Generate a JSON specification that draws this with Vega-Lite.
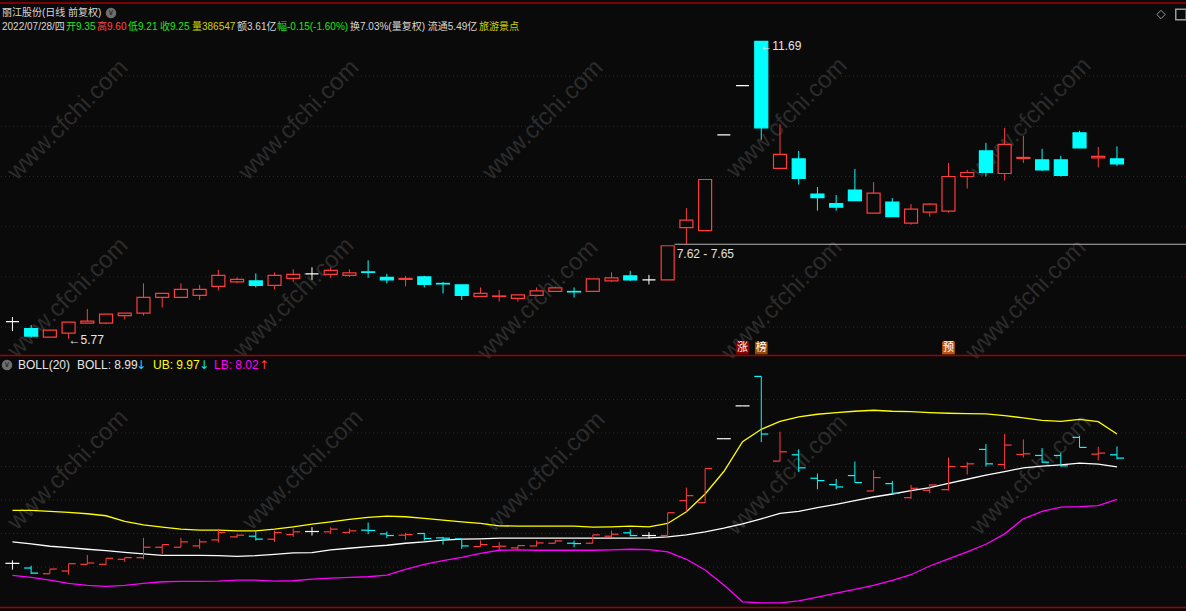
{
  "$schema": "https://vega.github.io/schema/vega-lite/v6.json",
  "width": 1186,
  "height": 611,
  "padding": 0,
  "autosize": {"type": "none"},
  "background": "#0a0a0a",
  "config": {"view": {"stroke": null}, "axis": {"disable": true}, "legend": {"disable": true}},
  "datasets": {
    "k": [
      {"i":0,"o":6.11,"h":6.20,"l":5.92,"c":6.11,"d":"flat"},
      {"i":1,"o":5.97,"h":6.04,"l":5.79,"c":5.82,"d":"down"},
      {"i":2,"o":5.80,"h":5.94,"l":5.80,"c":5.94,"d":"up"},
      {"i":3,"o":5.88,"h":6.10,"l":5.77,"c":6.10,"d":"up"},
      {"i":4,"o":6.08,"h":6.36,"l":6.08,"c":6.12,"d":"up"},
      {"i":5,"o":6.08,"h":6.26,"l":6.06,"c":6.26,"d":"up"},
      {"i":6,"o":6.23,"h":6.28,"l":6.15,"c":6.28,"d":"up"},
      {"i":7,"o":6.28,"h":6.87,"l":6.23,"c":6.59,"d":"up"},
      {"i":8,"o":6.59,"h":6.67,"l":6.39,"c":6.67,"d":"up"},
      {"i":9,"o":6.59,"h":6.87,"l":6.59,"c":6.75,"d":"up"},
      {"i":10,"o":6.63,"h":6.84,"l":6.54,"c":6.75,"d":"up"},
      {"i":11,"o":6.81,"h":7.14,"l":6.73,"c":7.03,"d":"up"},
      {"i":12,"o":6.90,"h":6.99,"l":6.87,"c":6.95,"d":"up"},
      {"i":13,"o":6.92,"h":7.07,"l":6.79,"c":6.83,"d":"down"},
      {"i":14,"o":6.83,"h":7.09,"l":6.75,"c":7.03,"d":"up"},
      {"i":15,"o":6.97,"h":7.15,"l":6.90,"c":7.05,"d":"up"},
      {"i":16,"o":7.06,"h":7.19,"l":6.94,"c":7.06,"d":"flat"},
      {"i":17,"o":7.05,"h":7.19,"l":6.98,"c":7.13,"d":"up"},
      {"i":18,"o":7.03,"h":7.15,"l":7.00,"c":7.08,"d":"up"},
      {"i":19,"o":7.10,"h":7.33,"l":6.98,"c":7.09,"d":"down"},
      {"i":20,"o":6.99,"h":7.06,"l":6.87,"c":6.94,"d":"down"},
      {"i":21,"o":6.95,"h":7.02,"l":6.81,"c":6.97,"d":"up"},
      {"i":22,"o":7.00,"h":7.02,"l":6.79,"c":6.85,"d":"down"},
      {"i":23,"o":6.87,"h":6.90,"l":6.67,"c":6.86,"d":"down"},
      {"i":24,"o":6.84,"h":6.84,"l":6.54,"c":6.63,"d":"down"},
      {"i":25,"o":6.61,"h":6.79,"l":6.61,"c":6.67,"d":"up"},
      {"i":26,"o":6.61,"h":6.74,"l":6.51,"c":6.62,"d":"up"},
      {"i":27,"o":6.57,"h":6.64,"l":6.51,"c":6.64,"d":"up"},
      {"i":28,"o":6.63,"h":6.79,"l":6.61,"c":6.72,"d":"up"},
      {"i":29,"o":6.71,"h":6.81,"l":6.71,"c":6.78,"d":"up"},
      {"i":30,"o":6.71,"h":6.79,"l":6.59,"c":6.70,"d":"down"},
      {"i":31,"o":6.71,"h":6.96,"l":6.71,"c":6.96,"d":"up"},
      {"i":32,"o":6.92,"h":7.09,"l":6.90,"c":6.98,"d":"up"},
      {"i":33,"o":7.02,"h":7.12,"l":6.92,"c":6.94,"d":"down"},
      {"i":34,"o":6.94,"h":7.04,"l":6.85,"c":6.94,"d":"flat"},
      {"i":35,"o":6.94,"h":7.62,"l":6.94,"c":7.62,"d":"up"},
      {"i":36,"o":7.98,"h":8.37,"l":7.65,"c":8.13,"d":"up"},
      {"i":37,"o":7.92,"h":8.94,"l":7.92,"c":8.94,"d":"up"},
      {"i":38,"o":9.83,"h":9.83,"l":9.83,"c":9.83,"d":"flat"},
      {"i":39,"o":10.81,"h":10.81,"l":10.81,"c":10.81,"d":"flat"},
      {"i":40,"o":11.69,"h":11.69,"l":9.73,"c":9.97,"d":"down"},
      {"i":41,"o":9.16,"h":10.04,"l":9.16,"c":9.44,"d":"up"},
      {"i":42,"o":9.35,"h":9.51,"l":8.84,"c":8.96,"d":"down"},
      {"i":43,"o":8.65,"h":8.79,"l":8.32,"c":8.58,"d":"down"},
      {"i":44,"o":8.46,"h":8.63,"l":8.32,"c":8.39,"d":"down"},
      {"i":45,"o":8.73,"h":9.15,"l":8.52,"c":8.52,"d":"down"},
      {"i":46,"o":8.27,"h":8.89,"l":8.27,"c":8.67,"d":"up"},
      {"i":47,"o":8.49,"h":8.57,"l":8.20,"c":8.20,"d":"down"},
      {"i":48,"o":8.07,"h":8.45,"l":8.04,"c":8.35,"d":"up"},
      {"i":49,"o":8.29,"h":8.47,"l":8.20,"c":8.45,"d":"up"},
      {"i":50,"o":8.31,"h":9.27,"l":8.28,"c":9.00,"d":"up"},
      {"i":51,"o":9.00,"h":9.13,"l":8.76,"c":9.08,"d":"up"},
      {"i":52,"o":9.51,"h":9.67,"l":9.00,"c":9.08,"d":"down"},
      {"i":53,"o":9.06,"h":9.97,"l":8.92,"c":9.64,"d":"up"},
      {"i":54,"o":9.36,"h":9.81,"l":9.27,"c":9.38,"d":"up"},
      {"i":55,"o":9.33,"h":9.55,"l":9.11,"c":9.13,"d":"down"},
      {"i":56,"o":9.33,"h":9.41,"l":9.00,"c":9.02,"d":"down"},
      {"i":57,"o":9.87,"h":9.91,"l":9.57,"c":9.57,"d":"down"},
      {"i":58,"o":9.37,"h":9.59,"l":9.18,"c":9.40,"d":"up"},
      {"i":59,"o":9.35,"h":9.60,"l":9.21,"c":9.25,"d":"down"}
    ],
    "b": [
      {"i":0,"ub":7.69,"mid":6.75,"lb":5.75},
      {"i":1,"ub":7.69,"mid":6.69,"lb":5.69},
      {"i":2,"ub":7.66,"mid":6.62,"lb":5.61},
      {"i":3,"ub":7.63,"mid":6.58,"lb":5.51},
      {"i":4,"ub":7.59,"mid":6.53,"lb":5.45},
      {"i":5,"ub":7.53,"mid":6.49,"lb":5.42},
      {"i":6,"ub":7.36,"mid":6.44,"lb":5.45},
      {"i":7,"ub":7.26,"mid":6.39,"lb":5.51},
      {"i":8,"ub":7.19,"mid":6.35,"lb":5.56},
      {"i":9,"ub":7.13,"mid":6.35,"lb":5.57},
      {"i":10,"ub":7.10,"mid":6.35,"lb":5.57},
      {"i":11,"ub":7.10,"mid":6.34,"lb":5.58},
      {"i":12,"ub":7.08,"mid":6.32,"lb":5.61},
      {"i":13,"ub":7.08,"mid":6.34,"lb":5.61},
      {"i":14,"ub":7.13,"mid":6.38,"lb":5.58},
      {"i":15,"ub":7.20,"mid":6.42,"lb":5.59},
      {"i":16,"ub":7.28,"mid":6.43,"lb":5.64},
      {"i":17,"ub":7.35,"mid":6.51,"lb":5.67},
      {"i":18,"ub":7.42,"mid":6.56,"lb":5.69},
      {"i":19,"ub":7.48,"mid":6.61,"lb":5.71},
      {"i":20,"ub":7.52,"mid":6.65,"lb":5.76},
      {"i":21,"ub":7.50,"mid":6.71,"lb":5.93},
      {"i":22,"ub":7.45,"mid":6.75,"lb":6.08},
      {"i":23,"ub":7.40,"mid":6.80,"lb":6.19},
      {"i":24,"ub":7.35,"mid":6.83,"lb":6.29},
      {"i":25,"ub":7.30,"mid":6.84,"lb":6.41},
      {"i":26,"ub":7.23,"mid":6.86,"lb":6.50},
      {"i":27,"ub":7.22,"mid":6.86,"lb":6.51},
      {"i":28,"ub":7.22,"mid":6.86,"lb":6.50},
      {"i":29,"ub":7.22,"mid":6.86,"lb":6.50},
      {"i":30,"ub":7.22,"mid":6.86,"lb":6.50},
      {"i":31,"ub":7.19,"mid":6.86,"lb":6.50},
      {"i":32,"ub":7.20,"mid":6.86,"lb":6.51},
      {"i":33,"ub":7.22,"mid":6.86,"lb":6.53},
      {"i":34,"ub":7.20,"mid":6.87,"lb":6.52},
      {"i":35,"ub":7.30,"mid":6.90,"lb":6.45},
      {"i":36,"ub":7.65,"mid":6.96,"lb":6.23},
      {"i":37,"ub":8.18,"mid":7.05,"lb":5.91},
      {"i":38,"ub":8.85,"mid":7.16,"lb":5.46},
      {"i":39,"ub":9.74,"mid":7.29,"lb":4.96},
      {"i":40,"ub":10.11,"mid":7.44,"lb":4.93},
      {"i":41,"ub":10.35,"mid":7.60,"lb":4.93},
      {"i":42,"ub":10.48,"mid":7.66,"lb":4.99},
      {"i":43,"ub":10.56,"mid":7.77,"lb":5.10},
      {"i":44,"ub":10.61,"mid":7.87,"lb":5.22},
      {"i":45,"ub":10.65,"mid":7.98,"lb":5.33},
      {"i":46,"ub":10.68,"mid":8.09,"lb":5.45},
      {"i":47,"ub":10.65,"mid":8.18,"lb":5.60},
      {"i":48,"ub":10.64,"mid":8.28,"lb":5.77},
      {"i":49,"ub":10.61,"mid":8.37,"lb":6.03},
      {"i":50,"ub":10.59,"mid":8.50,"lb":6.24},
      {"i":51,"ub":10.58,"mid":8.62,"lb":6.45},
      {"i":52,"ub":10.57,"mid":8.74,"lb":6.68},
      {"i":53,"ub":10.52,"mid":8.85,"lb":6.99},
      {"i":54,"ub":10.45,"mid":8.96,"lb":7.44},
      {"i":55,"ub":10.38,"mid":9.01,"lb":7.66},
      {"i":56,"ub":10.35,"mid":9.05,"lb":7.79},
      {"i":57,"ub":10.41,"mid":9.10,"lb":7.80},
      {"i":58,"ub":10.34,"mid":9.07,"lb":7.83},
      {"i":59,"ub":9.97,"mid":8.99,"lb":8.02}
    ]
  },
  "resolve": {"scale": {"y": "independent"}},
  "layer": [
    {
      "resolve": {"scale": {"color": "independent"}},
      "layer": [
        {"data": {"values": [{"g":6},{"g":7},{"g":8},{"g":9},{"g":10},{"g":11}]},
         "mark": {"type": "rule", "color": "#8a0000", "strokeDash": [1, 3], "strokeWidth": 1},
         "encoding": {"y": {"field": "g", "type": "quantitative", "axis": null, "scale": {"domain": [5.424, 12.516], "range": [356, 0], "nice": false, "zero": false}}}},
        {"data": {"values": [{}]}, "mark": {"type": "text", "text": "www.cfchi.com", "x": 68, "y": 120, "angle": -45, "fontSize": 24, "font": "Liberation Sans", "color": "#2c2c2c", "align": "center", "baseline": "middle"}, "encoding": {}},
        {"data": {"values": [{}]}, "mark": {"type": "text", "text": "www.cfchi.com", "x": 299, "y": 120, "angle": -45, "fontSize": 24, "font": "Liberation Sans", "color": "#2c2c2c", "align": "center", "baseline": "middle"}, "encoding": {}},
        {"data": {"values": [{}]}, "mark": {"type": "text", "text": "www.cfchi.com", "x": 543, "y": 120, "angle": -45, "fontSize": 24, "font": "Liberation Sans", "color": "#2c2c2c", "align": "center", "baseline": "middle"}, "encoding": {}},
        {"data": {"values": [{}]}, "mark": {"type": "text", "text": "www.cfchi.com", "x": 787, "y": 118, "angle": -45, "fontSize": 24, "font": "Liberation Sans", "color": "#2c2c2c", "align": "center", "baseline": "middle"}, "encoding": {}},
        {"data": {"values": [{}]}, "mark": {"type": "text", "text": "www.cfchi.com", "x": 1031, "y": 118, "angle": -45, "fontSize": 24, "font": "Liberation Sans", "color": "#2c2c2c", "align": "center", "baseline": "middle"}, "encoding": {}},
        {"data": {"values": [{}]}, "mark": {"type": "text", "text": "www.cfchi.com", "x": 68, "y": 298, "angle": -45, "fontSize": 24, "font": "Liberation Sans", "color": "#2c2c2c", "align": "center", "baseline": "middle"}, "encoding": {}},
        {"data": {"values": [{}]}, "mark": {"type": "text", "text": "www.cfchi.com", "x": 294, "y": 298, "angle": -45, "fontSize": 24, "font": "Liberation Sans", "color": "#2c2c2c", "align": "center", "baseline": "middle"}, "encoding": {}},
        {"data": {"values": [{}]}, "mark": {"type": "text", "text": "www.cfchi.com", "x": 538, "y": 300, "angle": -45, "fontSize": 24, "font": "Liberation Sans", "color": "#2c2c2c", "align": "center", "baseline": "middle"}, "encoding": {}},
        {"data": {"values": [{}]}, "mark": {"type": "text", "text": "www.cfchi.com", "x": 782, "y": 300, "angle": -45, "fontSize": 24, "font": "Liberation Sans", "color": "#2c2c2c", "align": "center", "baseline": "middle"}, "encoding": {}},
        {"data": {"values": [{}]}, "mark": {"type": "text", "text": "www.cfchi.com", "x": 1026, "y": 300, "angle": -45, "fontSize": 24, "font": "Liberation Sans", "color": "#2c2c2c", "align": "center", "baseline": "middle"}, "encoding": {}},
        {"data": {"values": [{}]}, "mark": {"type": "rule", "color": "#a00000", "strokeWidth": 1.5}, "encoding": {"y": {"value": 3}}},
        {"data": {"values": [{}]}, "mark": {"type": "rule", "color": "#a00000", "strokeWidth": 1.5}, "encoding": {"y": {"value": 355.5}}},
        {"data": {"values": [{"i": 35, "p": 7.65}]},
         "mark": {"type": "rule", "color": "#b4b4b4", "strokeWidth": 1, "xOffset": 7},
         "encoding": {"x": {"field": "i", "type": "quantitative", "axis": null, "scale": {"domain": [-0.397, 62.42], "nice": false, "zero": false}}, "x2": {"value": 1186}, "y": {"field": "p", "type": "quantitative"}}},
        {"data": {"name": "k"},
         "mark": {"type": "rule", "strokeWidth": 1},
         "encoding": {
           "x": {"field": "i", "type": "quantitative", "axis": null, "scale": {"domain": [-0.397, 62.42], "nice": false, "zero": false}},
           "y": {"field": "l", "type": "quantitative"},
           "y2": {"field": "h"},
           "color": {"field": "d", "type": "nominal", "legend": null, "scale": {"domain": ["up", "down", "flat"], "range": ["#ff3d3d", "#00ffff", "#ffffff"]}}}},
        {"data": {"name": "k"},
         "mark": {"type": "bar", "width": 13, "strokeWidth": 1.2},
         "encoding": {
           "x": {"field": "i", "type": "quantitative", "axis": null, "scale": {"domain": [-0.397, 62.42], "nice": false, "zero": false}},
           "y": {"field": "o", "type": "quantitative"},
           "y2": {"field": "c"},
           "fill": {"field": "d", "type": "nominal", "legend": null, "scale": {"domain": ["up", "down", "flat"], "range": ["#0a0a0a", "#00ffff", "#ffffff"]}},
           "stroke": {"field": "d", "type": "nominal", "legend": null, "scale": {"domain": ["up", "down", "flat"], "range": ["#ff3d3d", "#00ffff", "#ffffff"]}}}},
        {"data": {"values": [{"i": 3, "p": 5.77, "t": "←5.77"}]},
         "mark": {"type": "text", "align": "left", "baseline": "middle", "dy": 1, "fontSize": 12, "font": "Liberation Sans", "color": "#e6e6e6"},
         "encoding": {"x": {"field": "i", "type": "quantitative"}, "y": {"field": "p", "type": "quantitative"}, "text": {"field": "t"}}},
        {"data": {"values": [{"i": 40, "p": 11.69, "t": "←11.69"}]},
         "mark": {"type": "text", "align": "left", "baseline": "middle", "dy": 5, "dx": -1, "fontSize": 12, "font": "Liberation Sans", "color": "#e6e6e6"},
         "encoding": {"x": {"field": "i", "type": "quantitative"}, "y": {"field": "p", "type": "quantitative"}, "text": {"field": "t"}}},
        {"data": {"values": [{"i": 35, "p": 7.65, "t": "7.62 - 7.65"}]},
         "mark": {"type": "text", "align": "left", "baseline": "middle", "dy": 10, "dx": 9, "fontSize": 12, "font": "Liberation Sans", "color": "#e0e0e0"},
         "encoding": {"x": {"field": "i", "type": "quantitative"}, "y": {"field": "p", "type": "quantitative"}, "text": {"field": "t"}}},
        {"data": {"values": [{"i": 39, "t": "涨"}, {"i": 40, "t": "榜"}, {"i": 50, "t": "预"}]},
         "mark": {"type": "point", "shape": "square", "filled": true, "size": 160, "opacity": 1, "y": 348},
         "encoding": {"x": {"field": "i", "type": "quantitative"}, "color": {"field": "t", "type": "nominal", "legend": null, "scale": {"domain": ["涨", "榜", "预"], "range": ["#8e0000", "#9a4800", "#c0560f"]}}}},
        {"data": {"values": [{"i": 39, "t": "涨"}, {"i": 40, "t": "榜"}, {"i": 50, "t": "预"}]},
         "mark": {"type": "text", "y": 348, "align": "center", "baseline": "middle", "fontSize": 11, "font": "Noto Sans CJK SC", "color": "#ffffff"},
         "encoding": {"x": {"field": "i", "type": "quantitative"}, "text": {"field": "t"}}},
        {"data": {"values": [{}]}, "mark": {"type": "text", "text": "丽江股份(日线 前复权)", "x": 2, "y": 13, "align": "left", "baseline": "middle", "fontSize": 10, "font": "Liberation Sans, Noto Sans CJK SC", "color": "#d8d8d8"}, "encoding": {}},
        {"data": {"values": [{}]}, "mark": {"type": "point", "shape": "circle", "filled": true, "size": 110, "opacity": 1, "color": "#6e6e6e", "x": 111, "y": 13}, "encoding": {}},
        {"data": {"values": [{}]}, "mark": {"type": "text", "text": "∨", "x": 111, "y": 13, "align": "center", "baseline": "middle", "fontSize": 8, "font": "DejaVu Sans", "color": "#1a1a1a"}, "encoding": {}},
        {"data": {"values": [{}]}, "mark": {"type": "text", "text": "2022/07/28/四", "x": 2, "y": 27, "align": "left", "baseline": "middle", "fontSize": 10, "font": "Liberation Sans, Noto Sans CJK SC", "color": "#d8d8d8"}, "encoding": {}},
        {"data": {"values": [{}]}, "mark": {"type": "text", "text": "开9.35", "x": 66, "y": 27, "align": "left", "baseline": "middle", "fontSize": 10, "font": "Liberation Sans, Noto Sans CJK SC", "color": "#1ee61e"}, "encoding": {}},
        {"data": {"values": [{}]}, "mark": {"type": "text", "text": "高9.60", "x": 97, "y": 27, "align": "left", "baseline": "middle", "fontSize": 10, "font": "Liberation Sans, Noto Sans CJK SC", "color": "#ff4a4a"}, "encoding": {}},
        {"data": {"values": [{}]}, "mark": {"type": "text", "text": "低9.21", "x": 128, "y": 27, "align": "left", "baseline": "middle", "fontSize": 10, "font": "Liberation Sans, Noto Sans CJK SC", "color": "#1ee61e"}, "encoding": {}},
        {"data": {"values": [{}]}, "mark": {"type": "text", "text": "收9.25", "x": 160, "y": 27, "align": "left", "baseline": "middle", "fontSize": 10, "font": "Liberation Sans, Noto Sans CJK SC", "color": "#1ee61e"}, "encoding": {}},
        {"data": {"values": [{}]}, "mark": {"type": "text", "text": "量386547", "x": 192, "y": 27, "align": "left", "baseline": "middle", "fontSize": 10, "font": "Liberation Sans, Noto Sans CJK SC", "color": "#d2d200"}, "encoding": {}},
        {"data": {"values": [{}]}, "mark": {"type": "text", "text": "额3.61亿", "x": 237, "y": 27, "align": "left", "baseline": "middle", "fontSize": 10, "font": "Liberation Sans, Noto Sans CJK SC", "color": "#d8d8d8"}, "encoding": {}},
        {"data": {"values": [{}]}, "mark": {"type": "text", "text": "幅-0.15(-1.60%)", "x": 277, "y": 27, "align": "left", "baseline": "middle", "fontSize": 10, "font": "Liberation Sans, Noto Sans CJK SC", "color": "#1ee61e"}, "encoding": {}},
        {"data": {"values": [{}]}, "mark": {"type": "text", "text": "换7.03%(量复权) 流通5.49亿", "x": 350, "y": 27, "align": "left", "baseline": "middle", "fontSize": 10, "font": "Liberation Sans, Noto Sans CJK SC", "color": "#d8d8d8"}, "encoding": {}},
        {"data": {"values": [{}]}, "mark": {"type": "text", "text": "旅游景点", "x": 479, "y": 27, "align": "left", "baseline": "middle", "fontSize": 10, "font": "Liberation Sans, Noto Sans CJK SC", "color": "#d2d200"}, "encoding": {}},
        {"data": {"values": [{}]}, "mark": {"type": "point", "shape": "diamond", "filled": false, "size": 70, "opacity": 1, "color": "#9a9a9a", "strokeWidth": 1, "x": 1161, "y": 14.5}, "encoding": {}},
        {"data": {"values": [{}]}, "mark": {"type": "point", "shape": "square", "filled": false, "size": 110, "opacity": 1, "color": "#9a9a9a", "strokeWidth": 1.5, "x": 1181, "y": 14.5}, "encoding": {}}
      ]
    },
    {
      "layer": [
        {"data": {"values": [{"g":6},{"g":7},{"g":8},{"g":9},{"g":10},{"g":11}]},
         "mark": {"type": "rule", "color": "#8a0000", "strokeDash": [1, 3], "strokeWidth": 1},
         "encoding": {"y": {"field": "g", "type": "quantitative", "axis": null, "scale": {"domain": [4.687, 12.299], "range": [611, 356], "nice": false, "zero": false}}}},
        {"data": {"values": [{}]}, "mark": {"type": "text", "text": "www.cfchi.com", "x": 68, "y": 470, "angle": -45, "fontSize": 24, "font": "Liberation Sans", "color": "#2c2c2c", "align": "center", "baseline": "middle"}, "encoding": {}},
        {"data": {"values": [{}]}, "mark": {"type": "text", "text": "www.cfchi.com", "x": 303, "y": 470, "angle": -45, "fontSize": 24, "font": "Liberation Sans", "color": "#2c2c2c", "align": "center", "baseline": "middle"}, "encoding": {}},
        {"data": {"values": [{}]}, "mark": {"type": "text", "text": "www.cfchi.com", "x": 545, "y": 472, "angle": -45, "fontSize": 24, "font": "Liberation Sans", "color": "#2c2c2c", "align": "center", "baseline": "middle"}, "encoding": {}},
        {"data": {"values": [{}]}, "mark": {"type": "text", "text": "www.cfchi.com", "x": 787, "y": 475, "angle": -45, "fontSize": 24, "font": "Liberation Sans", "color": "#2c2c2c", "align": "center", "baseline": "middle"}, "encoding": {}},
        {"data": {"values": [{}]}, "mark": {"type": "text", "text": "www.cfchi.com", "x": 1031, "y": 475, "angle": -45, "fontSize": 24, "font": "Liberation Sans", "color": "#2c2c2c", "align": "center", "baseline": "middle"}, "encoding": {}},
        {"data": {"name": "b"},
         "mark": {"type": "line", "color": "#ffffff", "strokeWidth": 1.3},
         "encoding": {"x": {"field": "i", "type": "quantitative", "axis": null, "scale": {"domain": [-0.397, 62.42], "nice": false, "zero": false}}, "y": {"field": "mid", "type": "quantitative"}}},
        {"data": {"name": "b"},
         "mark": {"type": "line", "color": "#ffff00", "strokeWidth": 1.3},
         "encoding": {"x": {"field": "i", "type": "quantitative"}, "y": {"field": "ub", "type": "quantitative"}}},
        {"data": {"name": "b"},
         "mark": {"type": "line", "color": "#ff00ff", "strokeWidth": 1.3},
         "encoding": {"x": {"field": "i", "type": "quantitative"}, "y": {"field": "lb", "type": "quantitative"}}},
        {"data": {"name": "k"},
         "mark": {"type": "rule", "strokeWidth": 1},
         "encoding": {
           "x": {"field": "i", "type": "quantitative"},
           "y": {"field": "l", "type": "quantitative"},
           "y2": {"field": "h"},
           "color": {"field": "d", "type": "nominal", "legend": null, "scale": {"domain": ["up", "down", "flat"], "range": ["#ff3d3d", "#00ffff", "#ffffff"]}}}},
        {"data": {"name": "k"},
         "mark": {"type": "tick", "orient": "horizontal", "size": 7, "thickness": 1.2, "opacity": 1, "xOffset": -3.5},
         "encoding": {
           "x": {"field": "i", "type": "quantitative"},
           "y": {"field": "o", "type": "quantitative"},
           "color": {"field": "d", "type": "nominal", "legend": null, "scale": {"domain": ["up", "down", "flat"], "range": ["#ff3d3d", "#00ffff", "#ffffff"]}}}},
        {"data": {"name": "k"},
         "mark": {"type": "tick", "orient": "horizontal", "size": 7, "thickness": 1.2, "opacity": 1, "xOffset": 3.5},
         "encoding": {
           "x": {"field": "i", "type": "quantitative"},
           "y": {"field": "c", "type": "quantitative"},
           "color": {"field": "d", "type": "nominal", "legend": null, "scale": {"domain": ["up", "down", "flat"], "range": ["#ff3d3d", "#00ffff", "#ffffff"]}}}},
        {"data": {"values": [{}]}, "mark": {"type": "rule", "color": "#a00000", "strokeWidth": 1.5}, "encoding": {"y": {"value": 607.5}}},
        {"data": {"values": [{}]}, "mark": {"type": "point", "shape": "circle", "filled": true, "size": 110, "opacity": 1, "color": "#6e6e6e", "x": 7, "y": 365}, "encoding": {}},
        {"data": {"values": [{}]}, "mark": {"type": "text", "text": "∨", "x": 7, "y": 365, "align": "center", "baseline": "middle", "fontSize": 8, "font": "DejaVu Sans", "color": "#1a1a1a"}, "encoding": {}},
        {"data": {"values": [{}]}, "mark": {"type": "text", "text": "BOLL(20)", "x": 18, "y": 365, "align": "left", "baseline": "middle", "fontSize": 12, "font": "Liberation Sans", "color": "#e6e6e6"}, "encoding": {}},
        {"data": {"values": [{}]}, "mark": {"type": "text", "text": "BOLL: 8.99", "x": 77, "y": 365, "align": "left", "baseline": "middle", "fontSize": 12, "font": "Liberation Sans", "color": "#e6e6e6"}, "encoding": {}},
        {"data": {"values": [{}]}, "mark": {"type": "text", "text": "↓", "x": 141, "y": 365, "align": "center", "baseline": "middle", "fontSize": 12, "font": "DejaVu Sans", "color": "#00e5ff"}, "encoding": {}},
        {"data": {"values": [{}]}, "mark": {"type": "text", "text": "UB: 9.97", "x": 153, "y": 365, "align": "left", "baseline": "middle", "fontSize": 12, "font": "Liberation Sans", "color": "#ffff00"}, "encoding": {}},
        {"data": {"values": [{}]}, "mark": {"type": "text", "text": "↓", "x": 204, "y": 365, "align": "center", "baseline": "middle", "fontSize": 12, "font": "DejaVu Sans", "color": "#00e5ff"}, "encoding": {}},
        {"data": {"values": [{}]}, "mark": {"type": "text", "text": "LB: 8.02", "x": 214, "y": 365, "align": "left", "baseline": "middle", "fontSize": 12, "font": "Liberation Sans", "color": "#ff00ff"}, "encoding": {}},
        {"data": {"values": [{}]}, "mark": {"type": "text", "text": "↑", "x": 264, "y": 365, "align": "center", "baseline": "middle", "fontSize": 12, "font": "DejaVu Sans", "color": "#ff4040"}, "encoding": {}}
      ]
    }
  ]
}
